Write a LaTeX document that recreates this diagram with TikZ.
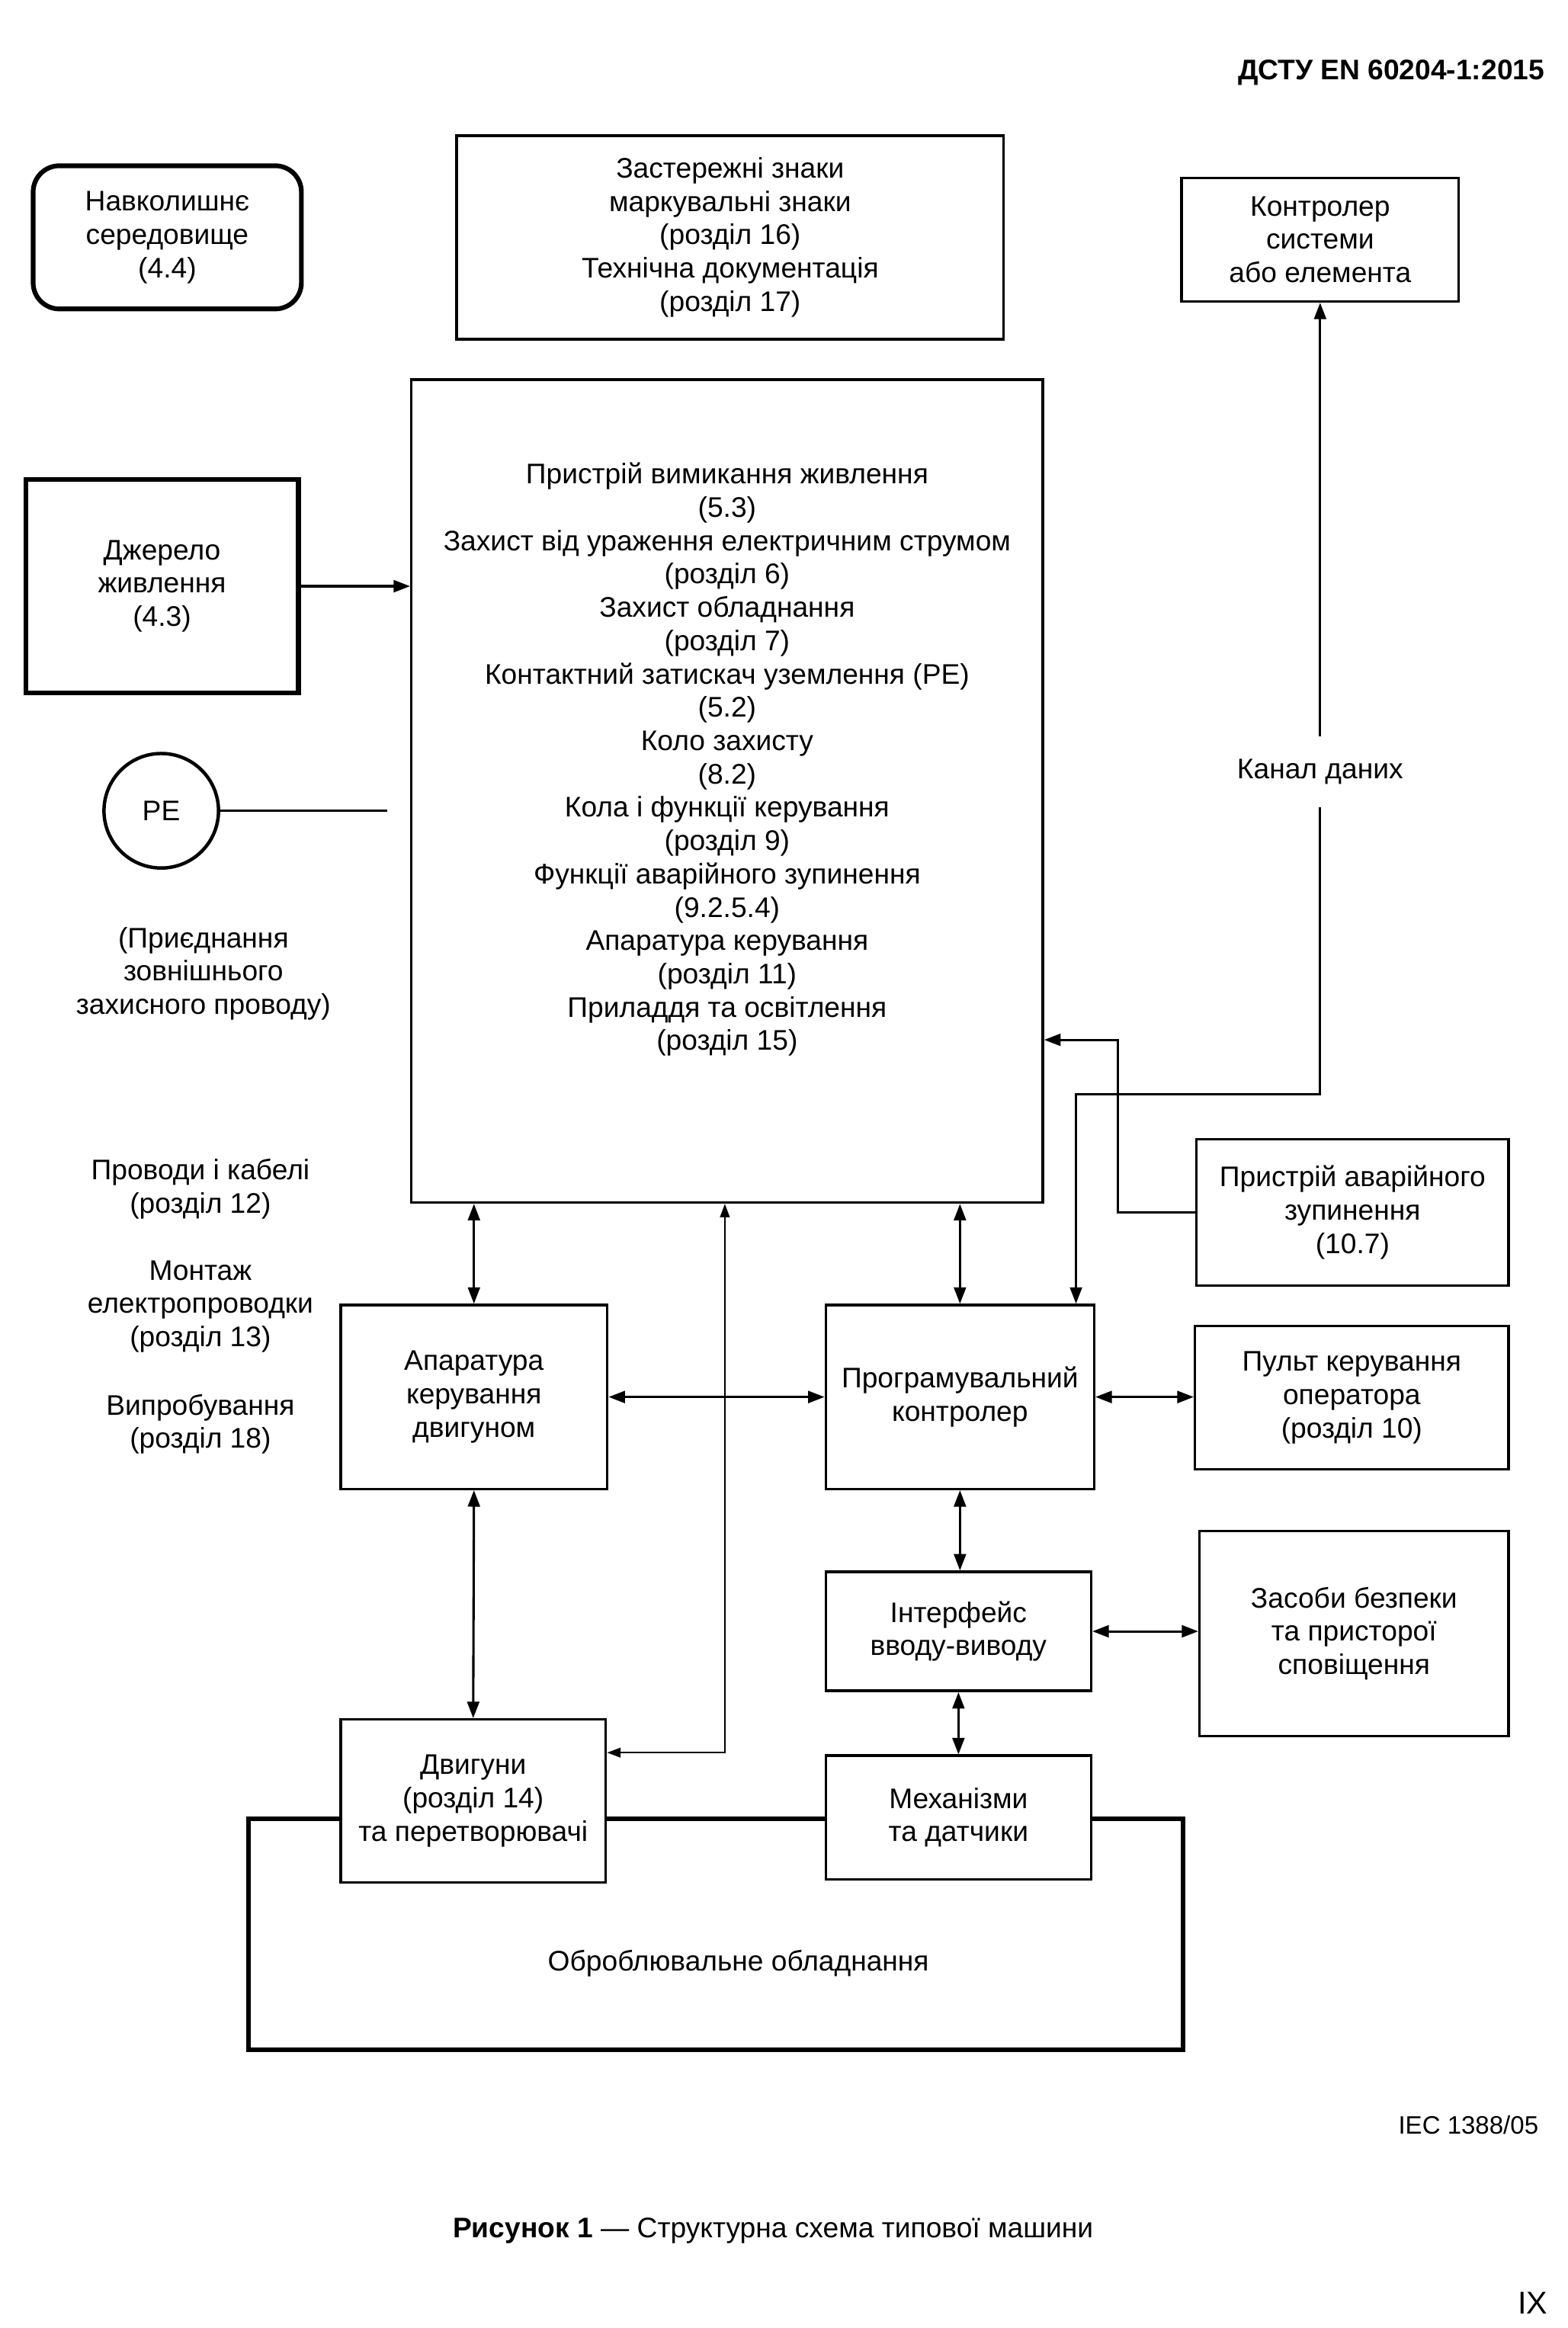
\documentclass[tikz,border=0pt]{standalone}
\usepackage{fontspec}
\setmainfont{Liberation Sans}
\usetikzlibrary{positioning,arrows.meta}
\tikzset{
    every node/.style={font=\fontsize{10.8}{12.7}\selectfont, align=center},
    wh/.style 2 args={minimum width=#1*0.2019mm, minimum height=#2*0.2019mm},
    block/.style={draw, line width=1pt, fill=white, inner sep=0pt},
    heavy block/.style={block, line width=1.8pt},
    link/.style={line width=0.9pt},
    thin link/.style={line width=0.5pt, >={Triangle[length=1.8mm,width=1.3mm]}}
}

\begin{document}
\begin{tikzpicture}[x=0.2019mm, y=-0.2019mm, >={Triangle[length=2.2mm,width=1.6mm]}]
\useasboundingbox (0,0) rectangle (1040,1544.8);

\node[anchor=east, font=\fontsize{10.8}{12}\selectfont\bfseries] (doc) at (1031,48) {ДСТУ EN 60204-1:2015};

\node[heavy block, rounded corners=3.5mm, wh={178}{95}] (env) at (111,157.5) {Навколишнє\\середовище\\(4.4)};
\node[block, wh={363}{135}] (signs) at (484.5,157.5) {Застережні знаки\\маркувальні знаки\\(розділ 16)\\Технічна документація\\(розділ 17)};
\node[block, wh={184}{82}] (sysctl) at (876,159) {Контролер\\системи\\або елемента};

\node[block, wh={419}{546}] (main) at (482.5,525) {};
\node (mainlbl) at (482.5,504) {Пристрій вимикання живлення\\(5.3)\\Захист від ураження електричним струмом\\(розділ 6)\\Захист обладнання\\(розділ 7)\\Контактний затискач уземлення (PE)\\(5.2)\\Коло захисту\\(8.2)\\Кола і функції керування\\(розділ 9)\\Функції аварійного зупинення\\(9.2.5.4)\\Апаратура керування\\(розділ 11)\\Приладдя та освітлення\\(розділ 15)};

\node[heavy block, wh={181}{142}] (supply) at (107.5,389) {Джерело\\живлення\\(4.3)};
\node[circle, draw, line width=1.3pt, wh={76}{76}, inner sep=0pt] (pe) at (107,538) {PE};
\coordinate (peend) at (257,538);
\node (pecap) at (135,646) {(Приєднання\\зовнішнього\\захисного проводу)};

\node (wires) at (133,789) {Проводи і кабелі\\(розділ 12)};
\node (mount) at (133,867) {Монтаж\\електропроводки\\(розділ 13)};
\node (tests) at (133,945) {Випробування\\(розділ 18)};

\node[inner ysep=3mm] (bus) at (876,512) {Канал даних};
\coordinate (tap) at (714,726);
\coordinate (esbend) at (742,690);
\coordinate (mtap) at (481,1163);

\node[heavy block, fill=none, wh={620}{153}] (proc) at (475,1283.5) {};
\node (proclbl) at (490,1303) {Оброблювальне обладнання};

\node[block, wh={207}{97}] (estop) at (897.5,804.5) {Пристрій аварійного\\зупинення\\(10.7)};
\node[block, wh={177}{122}] (motctl) at (314.5,927) {Апаратура\\керування\\двигуном};
\node[block, wh={178}{122}] (plc) at (637,927) {Програмувальний\\контролер};
\node[block, wh={208}{95}] (panel) at (897,927.5) {Пульт керування\\оператора\\(розділ 10)};
\node[block, wh={176}{79}] (io) at (636,1082.5) {Інтерфейс\\вводу-виводу};
\node[block, wh={205}{136}] (safety) at (898.5,1084) {Засоби безпеки\\та присторої\\сповіщення};
\node[block, wh={176}{108}] (motors) at (314,1195) {Двигуни\\(розділ 14)\\та перетворювачі};
\node[block, wh={176}{82}] (mech) at (636,1206) {Механізми\\та датчики};

\draw[link,->] (supply.east) -- (supply.east -| main.west);
\draw[link] (pe.east) -- (peend);
\draw[link,->] (bus.north) -- (sysctl.south);
\draw[link,->] (bus.south) |- (tap) -- (tap |- plc.north);
\draw[link,->] (estop.west) -| (esbend) -- (esbend -| main.east);
\draw[link,<->] (motctl.north) -- (motctl.north |- main.south);
\draw[link,<->] (plc.north) -- (plc.north |- main.south);
\draw[thin link,<->] (mtap |- main.south) -- (mtap) -- (mtap -| motors.east);
\draw[link,<->] (motctl.east) -- (plc.west);
\draw[link,<->] (plc.east) -- (plc.east -| panel.west);
\draw[link,<->] (motctl.south) -- (motors.north);
\draw[link,<->] (plc.south) -- (plc.south |- io.north);
\draw[link,<->] (io.east) -- (io.east -| safety.west);
\draw[link,<->] (io.south) -- (io.south |- mech.north);

\node[anchor=east, font=\fontsize{9.6}{11}\selectfont] (iec) at (1027,1410) {IEC 1388/05};
\node (caption) at (513,1480) {\textbf{Рисунок 1} — Структурна схема типової машини};
\node[font=\fontsize{12}{14}\selectfont] (page) at (1017,1528) {IX};
\end{tikzpicture}
\end{document}
